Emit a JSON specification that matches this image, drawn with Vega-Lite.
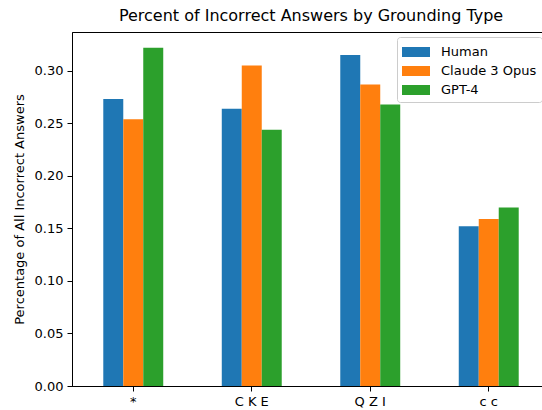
{
  "$schema": "https://vega.github.io/schema/vega-lite/v6.json",
  "autosize": "none",
  "padding": {"left": 72, "top": 32, "right": 0, "bottom": 24},
  "width": 478,
  "height": 354,
  "title": {"text": "Percent of Incorrect Answers by Grounding Type", "font": "DejaVu Sans", "fontSize": 16, "fontWeight": "normal", "color": "black", "offset": 8},
  "data": {"values": [
    {"group": "*", "model": "Human", "value": 0.2733},
    {"group": "*", "model": "Claude 3 Opus", "value": 0.254},
    {"group": "*", "model": "GPT-4", "value": 0.322},
    {"group": "C K E", "model": "Human", "value": 0.264},
    {"group": "C K E", "model": "Claude 3 Opus", "value": 0.305},
    {"group": "C K E", "model": "GPT-4", "value": 0.244},
    {"group": "Q Z I", "model": "Human", "value": 0.315},
    {"group": "Q Z I", "model": "Claude 3 Opus", "value": 0.287},
    {"group": "Q Z I", "model": "GPT-4", "value": 0.268},
    {"group": "c c", "model": "Human", "value": 0.152},
    {"group": "c c", "model": "Claude 3 Opus", "value": 0.159},
    {"group": "c c", "model": "GPT-4", "value": 0.170}
  ]},
  "mark": {"type": "bar"},
  "encoding": {
    "x": {"field": "group", "type": "nominal", "sort": ["*", "C K E", "Q Z I", "c c"],
      "scale": {"paddingInner": 0.494, "paddingOuter": 0.264},
      "axis": {"title": null, "labelAngle": 0, "labelFont": "DejaVu Sans", "labelFontSize": 13, "labelColor": "black", "tickColor": "black", "domainColor": "black", "tickSize": 5, "labelPadding": 4}},
    "xOffset": {"field": "model", "type": "nominal", "sort": ["Human", "Claude 3 Opus", "GPT-4"]},
    "y": {"field": "value", "type": "quantitative",
      "scale": {"domain": [0, 0.337], "nice": false},
      "axis": {"title": "Percentage of All Incorrect Answers", "titleFont": "DejaVu Sans", "titleFontSize": 13, "titleFontWeight": "normal", "titleColor": "black", "titlePadding": 8,
        "values": [0, 0.05, 0.1, 0.15, 0.2, 0.25, 0.3], "format": ".2f", "grid": false,
        "labelFont": "DejaVu Sans", "labelFontSize": 13, "labelColor": "black", "tickColor": "black", "domainColor": "black", "tickSize": 5, "labelPadding": 4}},
    "color": {"field": "model", "type": "nominal",
      "scale": {"domain": ["Human", "Claude 3 Opus", "GPT-4"], "range": ["#1f77b4", "#ff7f0e", "#2ca02c"]},
      "legend": {"title": null, "orient": "none", "legendX": 325, "legendY": 5,
        "symbolType": "M-1,-0.5H1.8V0.5H-1Z", "symbolSize": 400, "symbolStrokeWidth": 0, "symbolOpacity": 1,
        "labelFont": "DejaVu Sans", "labelFontSize": 13, "labelColor": "black", "labelOffset": 19,
        "rowPadding": 2, "padding": 5, "strokeColor": "#cccccc", "fillColor": "white", "cornerRadius": 3}}
  },
  "config": {"view": {"stroke": "black", "strokeWidth": 1}, "axis": {"domainWidth": 1, "tickWidth": 1}}
}
